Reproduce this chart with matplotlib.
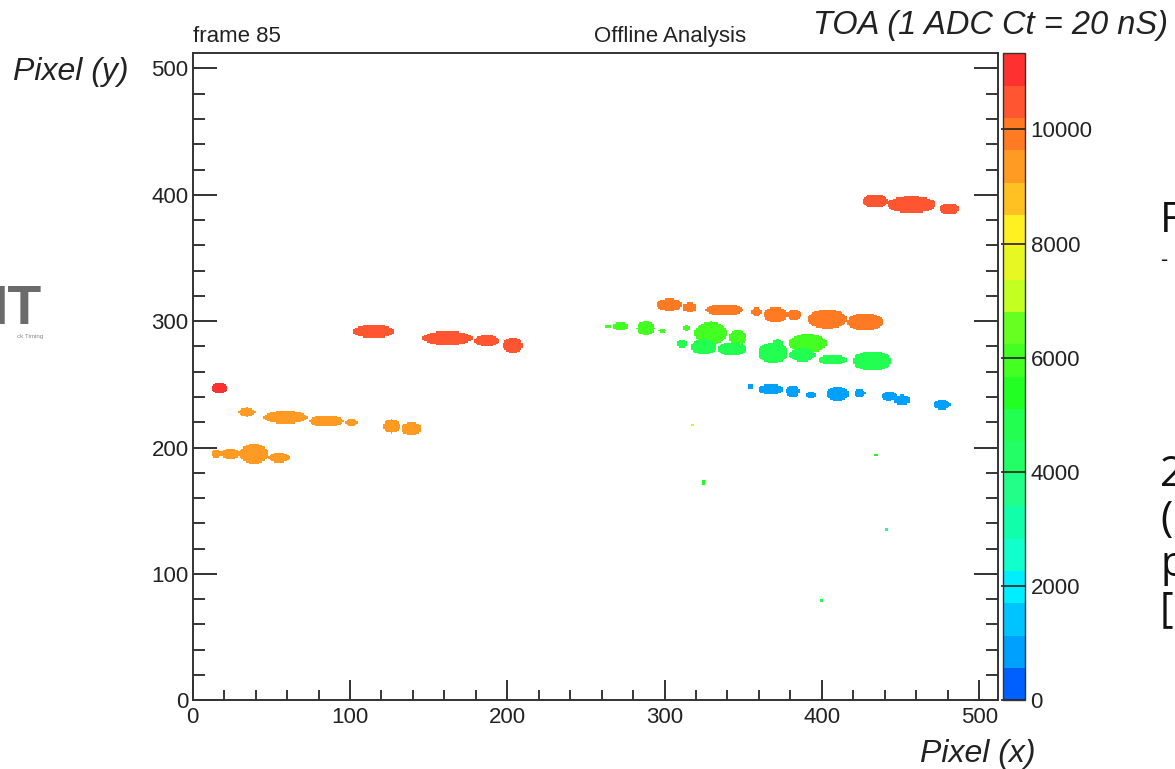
import numpy as np
import matplotlib.pyplot as plt
from matplotlib.colors import ListedColormap, BoundaryNorm
from matplotlib.ticker import MultipleLocator

plt.rcParams['font.family'] = ['Liberation Sans', 'DejaVu Sans']

# hit clusters on the 512x512 sensor: centre, half extent (pixels) and TOA counts
blob_x = [17, 115, 162, 187, 203.5,
          434, 457, 481,
          34.5, 59, 85, 101, 126.5, 139, 15, 24, 39, 55,
          303, 316, 338, 358.5, 370.4, 382.5, 403.5, 427.6,
          264, 272, 288, 298.5, 314, 329.5, 346.5, 391,
          371.7, 311, 325, 343, 369, 387.5, 407, 432,
          354.5, 367.5, 381.5, 392.8, 410, 424.3, 442.8, 451, 476.3,
          318, 325, 434.5, 441, 400]
blob_y = [247, 292, 286.5, 284.5, 281,
          395, 392.3, 389,
          228, 224, 221, 220, 217, 215, 195, 195, 195, 192,
          313, 311, 309, 307.5, 305, 305, 301.7, 299.4,
          296, 296, 294.5, 292.5, 294.5, 290.5, 287, 282.5,
          282.7, 282, 279.6, 278, 275, 273.5, 269.5, 268.5,
          248, 246, 244.5, 241.5, 242.5, 243, 240.8, 237.6, 234,
          218, 172, 194, 135, 79]
blob_rx = [5.5, 13, 16, 8, 6.5,
           8, 15.5, 6,
           5.5, 14, 11, 4, 5.5, 6.5, 3.5, 6, 9, 7,
           8, 4.5, 12, 3.5, 7.4, 4.8, 12.7, 11.6,
           2, 5, 5.5, 2.5, 2.3, 10.5, 6, 12.4,
           3, 3.3, 8.3, 9.5, 9.5, 8.3, 9.3, 12.4,
           2, 8, 4.3, 3.2, 7, 3.3, 4.8, 5.3, 5.3,
           1.2, 1.2, 1.5, 1.5, 1.2]
blob_ry = [4, 5.5, 5.5, 4.5, 6,
           5.5, 6.6, 4.5,
           3.5, 5, 4.5, 3, 5.5, 5, 3, 4, 8, 4,
           5, 4.2, 4.5, 3.5, 6.3, 4, 7.5, 6.8,
           1.5, 3.5, 5.5, 1.5, 2.3, 9, 6, 7.5,
           3, 3, 6, 5.5, 8, 5.5, 4, 8,
           1.8, 4.3, 4.7, 2.5, 5.5, 3.2, 3.5, 4, 4,
           1, 2, 1, 1.5, 1]
blob_toa = [11050, 10480, 10480, 10480, 10480,
            10480, 10480, 10480,
            9350, 9350, 9350, 9350, 9350, 9350, 9350, 9350, 9350, 9350,
            9920, 9920, 9920, 9920, 9920, 9920, 9920, 9920,
            5950, 5950, 5950, 5950, 5950, 5950, 5950, 5950,
            4820, 4820, 4820, 4820, 4820, 4820, 4820, 4820,
            850, 850, 850, 850, 850, 850, 850, 850, 850,
            7080, 5380, 5380, 3680, 4820]

toa_max = 11333
# 20 contour colours, lowest TOA first
palette = ['#0060ff', '#00a0ff', '#00c4ff', '#00eeff', '#11ffcc',
           '#11ffaa', '#22ff88', '#22ff66', '#22ff50', '#22ff22',
           '#44ff22', '#66ff22', '#c4ff22', '#e6f722', '#fff022',
           '#ffc022', '#ff9a22', '#ff7a22', '#ff5530', '#ff3030']

npix = 512
yy, xx = np.mgrid[0:npix, 0:npix] + 0.5
hits = np.full((npix, npix), np.nan)
for x, y, rx, ry, v in zip(blob_x, blob_y, blob_rx, blob_ry, blob_toa):
    hits[((xx - x) / rx) ** 2 + ((yy - y) / ry) ** 2 <= 1.0] = v

W, H = 1175, 769
fig = plt.figure(figsize=(W / 100, H / 100), dpi=100)
ax = fig.add_axes([192.7 / W, 1 - 700.3 / H, (998 - 192.7) / W, (700.3 - 53.3) / H])
cax = fig.add_axes([1003 / W, 1 - 700.3 / H, 22 / W, (700.3 - 53.3) / H])

levels = np.linspace(0, toa_max, len(palette) + 1)
cmap = ListedColormap(palette)
cmap.set_bad('white')
norm = BoundaryNorm(levels, cmap.N)
edges = np.arange(npix + 1)
mesh = ax.pcolormesh(edges, edges, np.ma.masked_invalid(hits), cmap=cmap, norm=norm)

ax.set_xlim(0, npix)
ax.set_ylim(0, npix)
ax.set_xticks(range(0, 501, 100))
ax.set_yticks(range(0, 501, 100))
ax.xaxis.set_minor_locator(MultipleLocator(20))
ax.yaxis.set_minor_locator(MultipleLocator(20))
ax.tick_params(axis='both', labelsize=16, colors='#222222', width=1.3)
ax.tick_params(axis='x', which='major', direction='in', length=14.5, pad=5, top=False)
ax.tick_params(axis='x', which='minor', direction='in', length=7.2, width=1.1, top=False)
ax.tick_params(axis='y', which='major', direction='in', length=17.5, pad=3, right=True)
ax.tick_params(axis='y', which='minor', direction='in', length=8.6, width=1.1, right=True)
for s in ax.spines.values():
    s.set_color('#333333')
    s.set_linewidth(1.4)

cb = fig.colorbar(mesh, cax=cax, ticks=range(0, 10001, 2000))
cb.outline.set_edgecolor('#333333')
cb.outline.set_linewidth(1.0)
cax.tick_params(direction='in', length=17, width=1.2, labelsize=16, pad=4, colors='#222222')
cax.minorticks_off()

fig.text(193 / W, 1 - 42 / H, 'frame 85', fontsize=16, va='baseline', ha='left', color='#222222')
fig.text(594 / W, 1 - 42 / H, 'Offline Analysis', fontsize=16, va='baseline', ha='left', color='#222222')
fig.text(1168 / W, 1 - 34 / H, 'TOA (1 ADC Ct = 20 nS)', fontsize=23.5, style='italic',
         va='baseline', ha='right', color='#222222')
fig.text(13 / W, 1 - 80 / H, 'Pixel (y)', fontsize=23, style='italic', va='baseline', ha='left', color='#222222')
fig.text(1035 / W, 1 - 762 / H, 'Pixel (x)', fontsize=23, style='italic', va='baseline', ha='right', color='#222222')

# bits of the surrounding slide
fig.text(42 / W, 1 - 324 / H, 'IT', fontsize=40, weight='bold', color='#6b6b6b', ha='right', va='baseline')
fig.text(43 / W, 1 - 338 / H, 'ck Timing', fontsize=4.5, color='#888888', ha='right', va='baseline')
for txt, base, size in [('F', 232, 30), ('-', 266, 16), ('2', 486, 30), ('(', 531, 30),
                        ('p', 576, 30), ('[', 621, 30)]:
    fig.text(1160 / W, 1 - base / H, txt, fontsize=size, family='Open Sans', color='#111111',
             ha='left', va='baseline')

fig.savefig('out.png', dpi=100)
